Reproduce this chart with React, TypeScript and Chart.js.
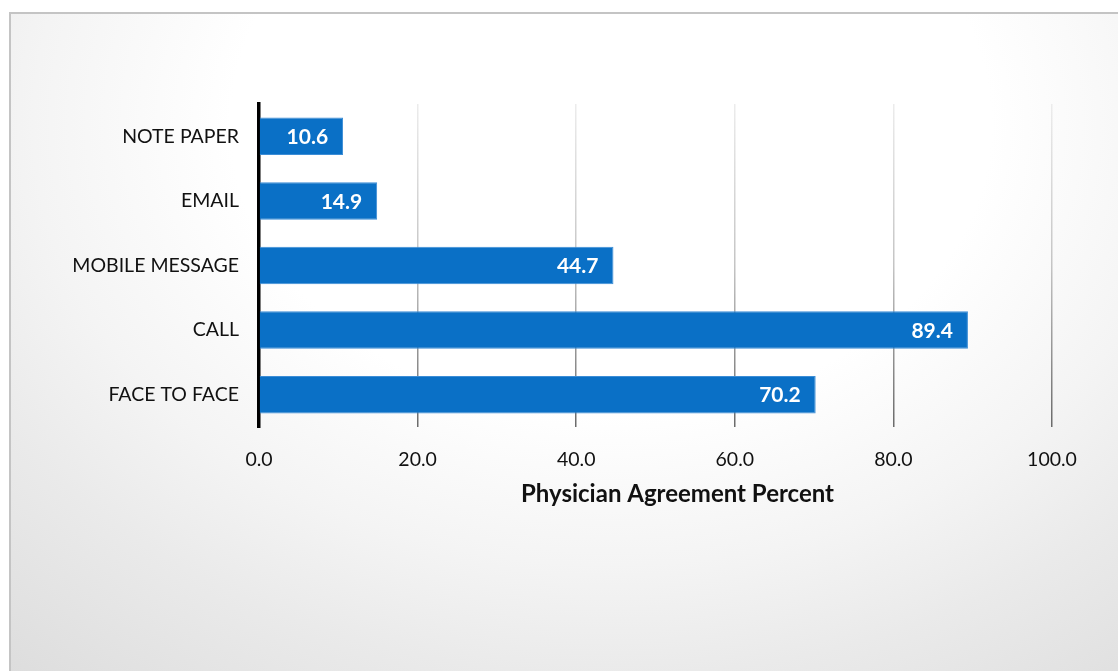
import React, { useEffect, useRef } from "react";
import { Chart, registerables } from "chart.js";

Chart.register(...registerables);

const categories = ["NOTE PAPER", "EMAIL", "MOBILE MESSAGE", "CALL", "FACE TO FACE"];
const values = [10.6, 14.9, 44.7, 89.4, 70.2];
const xTicks = [0, 20, 40, 60, 80, 100];
const axisTitle = "Physician Agreement Percent";

const FONT = "Lato, 'Open Sans', sans-serif";

export default function App() {
  const ref = useRef<HTMLCanvasElement | null>(null);

  useEffect(() => {
    if (!ref.current) return;
    const labelPlugin = {
      id: "valueLabels",
      afterDatasetsDraw(chart: any) {
        const ctx = chart.ctx;
        const meta = chart.getDatasetMeta(0);
        ctx.save();
        ctx.font = `bold 21px ${FONT}`;
        ctx.fillStyle = "#ffffff";
        ctx.textAlign = "right";
        ctx.textBaseline = "middle";
        meta.data.forEach((bar: any, i: number) => {
          ctx.fillText(values[i].toFixed(1), bar.x - 15, bar.y + 1);
        });
        ctx.restore();
      },
      afterDraw(chart: any) {
        const ctx = chart.ctx;
        const a = chart.chartArea;
        ctx.save();
        ctx.font = `bold 24px ${FONT}`;
        ctx.fillStyle = "#111111";
        ctx.textAlign = "center";
        ctx.textBaseline = "middle";
        ctx.fillText(axisTitle, (a.left + a.right) / 2 + 22, a.bottom + 67);
        ctx.restore();
      },
    };

    const chart = new Chart(ref.current, {
      type: "bar",
      data: {
        labels: categories,
        datasets: [
          {
            data: values,
            backgroundColor: "#0A70C6",
            borderColor: "#3C8DD6",
            borderWidth: 1,
            barPercentage: 0.58,
            categoryPercentage: 1,
          },
        ],
      },
      options: {
        indexAxis: "y",
        animation: false,
        responsive: false,
        maintainAspectRatio: false,
        layout: { padding: { left: 0, right: 66, top: 104, bottom: 0 } },
        plugins: {
          legend: { display: false },
          tooltip: { enabled: false },
          title: { display: false },
        },
        scales: {
          x: {
            type: "linear",
            min: 0,
            max: 100,
            afterFit: (s: any) => {
              s.height = 244;
            },
            afterBuildTicks: (s: any) => {
              s.ticks = xTicks.map((v) => ({ value: v }));
            },
            ticks: {
              padding: 21,
              color: "#111111",
              font: { family: FONT, size: 19.5 },
              callback: (v: any) => Number(v).toFixed(1),
            },
            grid: {
              drawTicks: false,
              lineWidth: 1.5,
              color: (c: any) => {
                const area = c.chart.chartArea;
                if (!area) return "#bbbbbb";
                const g = c.chart.ctx.createLinearGradient(0, area.top, 0, area.bottom);
                g.addColorStop(0, "#ececec");
                g.addColorStop(0.5, "#c4c4c4");
                g.addColorStop(1, "#6a6a6a");
                return g;
              },
            },
            border: { display: false },
          },
          y: {
            afterFit: (s: any) => {
              s.width = 259;
            },
            ticks: {
              padding: 20,
              color: "#111111",
              font: { family: FONT, size: 19.5 },
            },
            grid: { display: false, drawTicks: false },
            border: { display: true, color: "#000000", width: 3.5 },
          },
        },
      },
      plugins: [labelPlugin],
    });
    return () => chart.destroy();
  }, []);

  return (
    <div style={{ position: "absolute", left: 0, top: 0, width: 1118, height: 671, overflow: "hidden", background: "#ffffff" }}>
      <div
        style={{
          position: "absolute",
          left: 9,
          top: 12,
          width: 1130,
          height: 680,
          border: "2px solid #c4c4c4",
          background:
            "radial-gradient(ellipse 760px 580px at 600px 110px, #ffffff 0%, #ffffff 50%, #f4f4f4 76%, #eaeaea 95%, #dadada 130%)",
        }}
      />
      <canvas ref={ref} width={1118} height={671} style={{ position: "absolute", left: 0, top: 0 }} />
    </div>
  );
}
